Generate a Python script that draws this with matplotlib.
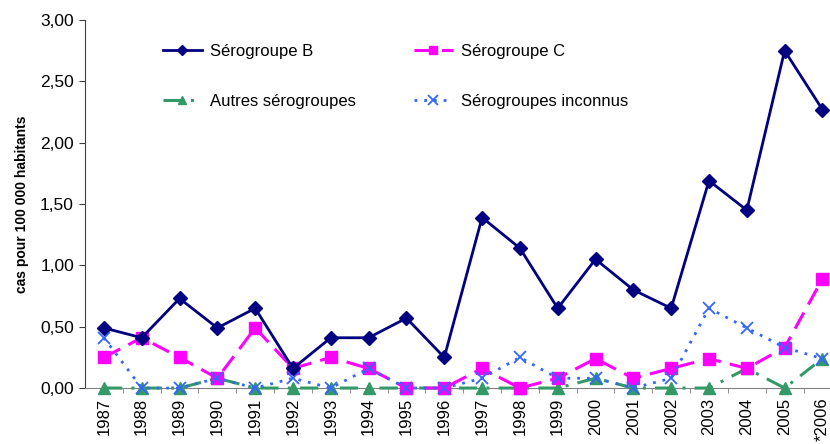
#!/usr/bin/env python3
import numpy as np
import matplotlib.pyplot as plt
from matplotlib.ticker import FixedLocator, FuncFormatter

plt.rcParams['font.family'] = ['Liberation Sans', 'DejaVu Sans']

years = list(range(1987, 2007))
year_labels = [str(y) for y in years[:-1]] + ['*2006']

sero_b = [0.49, 0.41, 0.73, 0.49, 0.65, 0.16, 0.41, 0.41, 0.57, 0.25,
          1.39, 1.14, 0.65, 1.05, 0.80, 0.65, 1.69, 1.45, 2.75, 2.27]
sero_c = [0.25, 0.41, 0.25, 0.08, 0.49, 0.16, 0.25, 0.16, 0.00, 0.00,
          0.16, 0.00, 0.08, 0.24, 0.08, 0.16, 0.24, 0.16, 0.33, 0.89]
autres = [0.00, 0.00, 0.00, 0.08, 0.00, 0.00, 0.00, 0.00, 0.00, 0.00,
          0.00, 0.00, 0.00, 0.08, 0.00, 0.00, 0.00, 0.16, 0.00, 0.24]
inconnus = [0.41, 0.00, 0.00, 0.08, 0.00, 0.08, 0.00, 0.16, 0.00, 0.00,
            0.08, 0.25, 0.08, 0.08, 0.00, 0.08, 0.65, 0.49, 0.33, 0.24]

fig = plt.figure(figsize=(8.3, 4.44), dpi=100)
ax = fig.add_axes([0.1024, 0.126, 0.8976, 0.829])

lb, = ax.plot(years, sero_b, color='#000080', lw=2, marker='D', ms=7,
              label='Sérogroupe B', zorder=5, clip_on=False)
lc, = ax.plot(years, sero_c, color='#FF00FF', lw=2.2, ls=(0, (6, 3)), marker='s', ms=8,
              label='Sérogroupe C', zorder=4, clip_on=False)
la, = ax.plot(years, autres, color='#339966', lw=2.2, ls=(0, (6, 3, 1, 3)), marker='^', ms=8,
              label='Autres sérogroupes', zorder=3, clip_on=False)
li, = ax.plot(years, inconnus, color='#3366FF', lw=2, ls=(0, (1, 2.5)), marker='x', ms=9,
              mew=1.3, label='Sérogroupes inconnus', zorder=4, clip_on=False)

ax.set_xlim(1986.5, 2006.2)
ax.set_ylim(0, 3)
ax.set_yticks(np.arange(0, 3.01, 0.5))
ax.yaxis.set_major_formatter(FuncFormatter(lambda v, p: f'{v:.2f}'.replace('.', ',')))

ax.set_xticks(years)
ax.set_xticklabels(year_labels, rotation=90)
ax.xaxis.set_minor_locator(FixedLocator(np.arange(1987.5, 2006, 1)))
ax.tick_params(axis='x', which='major', length=0, pad=7, labelsize=12)
ax.tick_params(axis='x', which='minor', length=3.5, color='#808080', direction='out')
ax.tick_params(axis='y', length=4, color='#404040', labelsize=12.5, pad=4)

for s in ['top', 'right']:
    ax.spines[s].set_visible(False)
ax.spines['bottom'].set_color('#808080')
ax.spines['left'].set_color('#404040')

ax.set_ylabel('cas pour 100 000 habitants', fontsize=10, fontweight='bold', labelpad=8)

# row-wise order: B, C on first row; autres, inconnus on second
ax.legend([lb, la, lc, li], [lb.get_label(), la.get_label(), lc.get_label(), li.get_label()],
          ncol=2, frameon=False, fontsize=12, loc='upper left',
          bbox_to_anchor=(0.085, 0.975), handlelength=2.3, columnspacing=3.5,
          labelspacing=2.1, handletextpad=0.5, markerscale=0.75)

plt.savefig('out.png', dpi=100)
